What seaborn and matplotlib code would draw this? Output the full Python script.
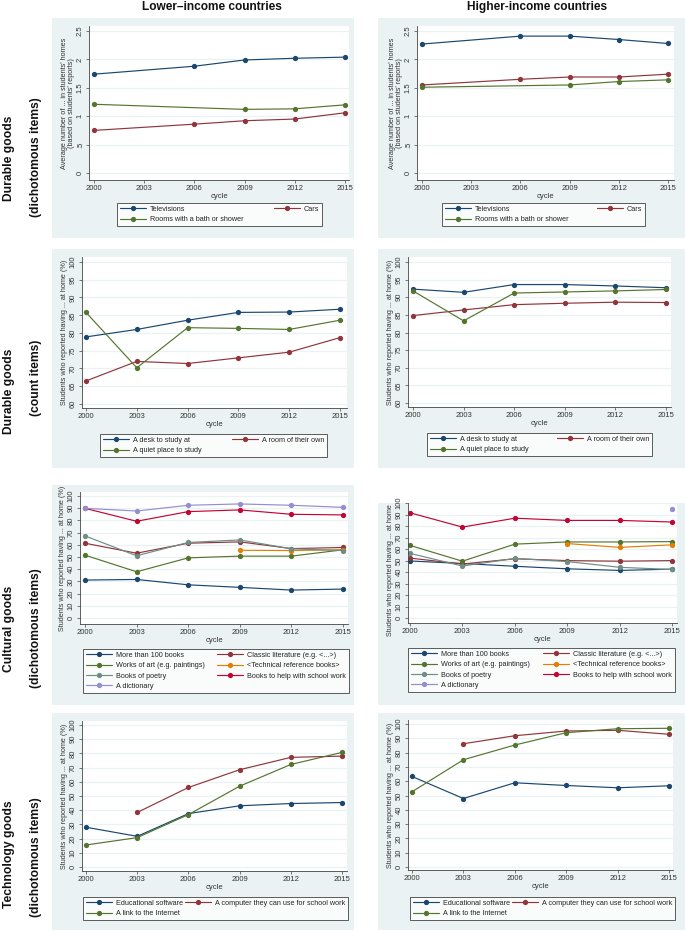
import numpy as np
import pandas as pd
import matplotlib
matplotlib.use("Agg")
import matplotlib.pyplot as plt
from matplotlib.patches import Rectangle
from matplotlib.lines import Line2D
from matplotlib.transforms import Bbox, TransformedBbox
import seaborn as sns

sns.set_style("white")
plt.rcParams['font.family'] = ['Liberation Sans', 'DejaVu Sans']

nan = np.nan
years = [2000, 2003, 2006, 2009, 2012, 2015]
year_labels = ["2000", "2003", "2006", "2009", "2012", "2015"]

col_titles = ["Lower\u2013income countries", "Higher-income countries"]
row_titles = [("Durable goods", "(dichotomous items)"),
              ("Durable goods", "(count items)"),
              ("Cultural goods", "(dichotomous items)"),
              ("Technology goods", "(dichotomous items)")]

# Row 1: durable goods (counts)
dur_items = ["Televisions", "Cars", "Rooms with a bath or shower"]
dur_low_tv = [1.74, nan, 1.88, 1.99, 2.02, 2.04]
dur_low_cars = [0.75, nan, 0.86, 0.92, 0.95, 1.06]
dur_low_bath = [1.21, nan, nan, 1.12, 1.13, 1.20]
dur_high_tv = [2.27, nan, 2.41, 2.41, 2.35, 2.28]
dur_high_cars = [1.55, nan, 1.65, 1.69, 1.69, 1.74]
dur_high_bath = [1.51, nan, nan, 1.55, 1.61, 1.64]
dur_yticks = [0, 0.5, 1, 1.5, 2, 2.5]
dur_ytick_labels = ["0", ".5", "1", "1.5", "2", "2.5"]

# Row 2: durable goods (dichotomous)
cnt_items = ["A desk to study at", "A room of their own", "A quiet place to study"]
cnt_low_desk = [78.9, 81.0, 83.6, 85.8, 85.9, 86.7]
cnt_low_room = [66.5, 72.0, 71.4, 73.0, 74.6, 78.7]
cnt_low_quiet = [85.8, 70.2, 81.5, 81.3, 81.0, 83.6]
cnt_high_desk = [92.3, 91.4, 93.6, 93.6, 93.2, 92.7]
cnt_high_room = [84.8, 86.4, 87.9, 88.3, 88.6, 88.5]
cnt_high_quiet = [91.8, 83.3, 91.2, 91.5, 91.8, 92.2]
cnt_yticks = [60, 65, 70, 75, 80, 85, 90, 95, 100]

# Row 3: cultural goods
cul_items = ["More than 100 books", "Classic literature (e.g. <...>)",
             "Works of art (e.g. paintings)", "<Technical reference books>",
             "Books of poetry", "Books to help with school work", "A dictionary"]
cul_low_books = [31.1, 31.6, 27.2, 25.1, 22.9, 23.7]
cul_low_classic = [61.3, 53.1, 61.3, 62.4, 56.9, 57.8]
cul_low_art = [51.5, 37.9, 49.3, 50.7, 50.7, 55.9]
cul_low_techref = [nan, nan, nan, 55.5, 55.3, 56.0]
cul_low_poetry = [67.3, 51.0, 61.9, 64.0, 56.7, 55.3]
cul_low_school = [89.9, 79.3, 87.2, 88.6, 85.0, 84.5]
cul_low_dict = [89.9, 87.7, 92.4, 93.5, 92.4, 90.7]
cul_high_books = [49.7, 47.5, 45.1, 42.9, 41.5, 42.6]
cul_high_classic = [52.2, 47.0, 51.6, 50.0, 49.5, 50.0]
cul_high_art = [63.2, 49.5, 64.3, 66.2, 66.2, 66.5]
cul_high_techref = [nan, nan, nan, 64.8, 61.5, 63.7]
cul_high_poetry = [56.3, 45.3, 51.9, 49.2, 44.2, 42.3]
cul_high_school = [91.5, 79.1, 86.8, 84.9, 84.9, 83.5]
cul_high_dict = [nan, nan, nan, nan, nan, 95.0]
pct_yticks = [0, 10, 20, 30, 40, 50, 60, 70, 80, 90, 100]

# Row 4: technology goods
tec_items = ["Educational software", "A computer they can use for school work",
             "A link to the Internet"]
tec_low_soft = [28.0, 21.6, 37.6, 43.1, 44.7, 45.4]
tec_low_comp = [nan, 38.4, 56.0, 68.5, 77.2, 78.1]
tec_low_net = [15.5, 20.7, 36.9, 56.9, 72.2, 80.7]
tec_high_soft = [63.3, 47.9, 58.9, 57.0, 55.4, 56.8]
tec_high_comp = [nan, 86.2, 91.8, 95.1, 95.6, 92.8]
tec_high_net = [52.6, 75.0, 85.3, 93.9, 96.7, 97.0]

stata_colors = ["#1A476F", "#90353B", "#55752F", "#E37E00",
                "#6E8E84", "#C10534", "#938DD2"]

ylab_avg = "Average number of ... in students' homes\n(based on students' reports)"
ylab_pct = "Students who reported having ... at home (%)"

W, H = 685, 932
BG = "#EAF2F3"
MS = 3.8
LW = 0.85
LEG_FS = 5.2
fig = plt.figure(figsize=(W / 100, H / 100), dpi=100)
fig.patch.set_facecolor("white")


def fx(px):
    return px / W


def fy(py):
    return 1 - py / H


def panel(bg, axr, xt, yt, items, series, yticks, ytl, ylabel, leg, expand=True):
    # background of the graph region
    bx0, by0, bx1, by1 = bg
    fig.patches.append(Rectangle((fx(bx0), fy(by1)), (bx1 - bx0) / W, (by1 - by0) / H,
                                 transform=fig.transFigure, facecolor=BG,
                                 edgecolor="none", zorder=-5))
    l, t, r, b = axr
    ax = fig.add_axes([fx(l), fy(b), (r - l) / W, (b - t) / H])
    ax.set_facecolor("white")
    # data
    rows = []
    for name, vals in zip(items, series):
        for yr, v in zip(years, vals):
            rows.append({"cycle": yr, "value": v, "item": name})
    df = pd.DataFrame(rows).dropna()
    pal = {n: stata_colors[i] for i, n in enumerate(items)}
    sns.lineplot(data=df, x="cycle", y="value", hue="item", hue_order=items,
                 palette=pal, marker="o", markersize=MS, markeredgewidth=0,
                 linewidth=LW, errorbar=None, legend=False, ax=ax)
    # limits from tick pixel positions
    (xp0, xv0), (xp1, xv1) = xt
    sx = (xp1 - xp0) / (xv1 - xv0)
    ax.set_xlim(xv0 + (l - xp0) / sx, xv0 + (r - xp0) / sx)
    (yp0, yv0), (yp1, yv1) = yt
    sy = (yp0 - yp1) / (yv1 - yv0)
    ax.set_ylim(yv0 - (b - yp0) / sy, yv0 + (yp0 - t) / sy)
    ax.set_xticks(years)
    ax.set_xticklabels(year_labels)
    ax.set_yticks(yticks)
    ax.set_yticklabels(ytl)
    ax.grid(axis="y", color=BG, linewidth=0.9)
    ax.grid(axis="x", visible=False)
    ax.set_axisbelow(True)
    for s in ["top", "right"]:
        ax.spines[s].set_visible(False)
    for s in ["left", "bottom"]:
        ax.spines[s].set_color("#444444")
        ax.spines[s].set_linewidth(0.6)
    ax.tick_params(axis="both", length=2.5, width=0.5, color="#444444",
                   labelsize=5.5, labelcolor="#333333", pad=1.2, direction="out",
                   bottom=True, left=True)
    ax.tick_params(axis="y", labelrotation=90)
    for lab in ax.get_yticklabels():
        lab.set_va("center")
    ax.set_xlabel("cycle", fontsize=5.5, color="#333333", labelpad=0.5)
    ax.set_ylabel(ylabel, fontsize=5.2, color="#333333", labelpad=1.5,
                  linespacing=0.95)
    clip = TransformedBbox(Bbox.from_extents(fx(bx0), fy(by1), fx(bx1), fy(by0)),
                           fig.transFigure)
    ax.yaxis.label.set_clip_box(clip)
    ax.yaxis.label.set_clip_on(True)
    # legend, filled row-wise like Stata
    handles = [Line2D([], [], color=pal[n], marker="o", markersize=MS,
                      markeredgewidth=0, linewidth=LW) for n in items]
    order = list(range(0, len(items), 2)) + list(range(1, len(items), 2))
    lx0, ly0, lx1, ly1 = leg
    common = dict(loc="upper left", bbox_transform=fig.transFigure, ncol=2,
                  frameon=True, fancybox=False, fontsize=LEG_FS,
                  handlelength=3.6, handletextpad=0.55, labelspacing=0.45,
                  borderpad=0.4, borderaxespad=0)
    if expand:
        lg = ax.legend([handles[i] for i in order], [items[i] for i in order],
                       bbox_to_anchor=(fx(lx0), fy(ly0) - 0.0001, (lx1 - lx0) / W, 0.0001),
                       mode="expand", columnspacing=0.6, **common)
    else:
        lg = ax.legend([handles[i] for i in order], [items[i] for i in order],
                       bbox_to_anchor=(fx(lx0), fy(ly0)),
                       columnspacing=0.3, **common)
    lg.get_frame().set_edgecolor("#333333")
    lg.get_frame().set_linewidth(0.7)
    lg.get_frame().set_facecolor("white")
    for txt in lg.get_texts():
        txt.set_color("#222222")
    return ax


# Row 1
panel((52, 18, 354, 238), (89, 26, 349, 180), ((94, 2000), (345, 2015)),
      ((173, 0), (31, 2.5)), dur_items, [dur_low_tv, dur_low_cars, dur_low_bath],
      dur_yticks, dur_ytick_labels, ylab_avg, (117, 203, 322, 232))
panel((378, 18, 685, 238), (417, 26, 674, 180), ((422, 2000), (668, 2015)),
      ((173, 0), (31, 2.5)), dur_items, [dur_high_tv, dur_high_cars, dur_high_bath],
      dur_yticks, dur_ytick_labels, ylab_avg, (442, 203, 645, 232))
# Row 2
panel((52, 249, 354, 468), (82, 257, 347, 408), ((86, 2000), (340, 2015)),
      ((404, 60), (262, 100)), cnt_items, [cnt_low_desk, cnt_low_room, cnt_low_quiet],
      cnt_yticks, [str(v) for v in cnt_yticks], ylab_pct, (100, 434, 327, 458))
panel((378, 249, 685, 468), (408, 257, 671, 407), ((413, 2000), (666, 2015)),
      ((403, 60), (262, 100)), cnt_items, [cnt_high_desk, cnt_high_room, cnt_high_quiet],
      cnt_yticks, [str(v) for v in cnt_yticks], ylab_pct, (427, 433, 652, 457))
# Row 3
panel((52, 485, 354, 705), (80, 492, 348, 624), ((85, 2000), (343, 2015)),
      ((618, 0), (496, 100)), cul_items,
      [cul_low_books, cul_low_classic, cul_low_art, cul_low_techref,
       cul_low_poetry, cul_low_school, cul_low_dict],
      pct_yticks, [str(v) for v in pct_yticks], ylab_pct, (83, 649, 349, 693))
panel((378, 503, 685, 705), (408, 503, 677, 623), ((410, 2000), (672, 2015)),
      ((618, 0), (509, 90)), cul_items,
      [cul_high_books, cul_high_classic, cul_high_art, cul_high_techref,
       cul_high_poetry, cul_high_school, cul_high_dict],
      pct_yticks, [str(v) for v in pct_yticks], ylab_pct, (408, 648, 675, 695))
# Row 4
panel((52, 713, 354, 930), (82, 721, 347, 871), ((86, 2000), (342, 2015)),
      ((867, 0), (725, 100)), tec_items, [tec_low_soft, tec_low_comp, tec_low_net],
      pct_yticks, [str(v) for v in pct_yticks], ylab_pct, (83, 897, 347, 920),
      expand=False)
panel((378, 713, 685, 930), (408, 720, 673, 870), ((412, 2000), (669, 2015)),
      ((867, 0), (724, 100)), tec_items, [tec_high_soft, tec_high_comp, tec_high_net],
      pct_yticks, [str(v) for v in pct_yticks], ylab_pct, (410, 897, 672, 921),
      expand=False)

# column titles
fig.text(fx(212), fy(7), col_titles[0], ha="center", va="center",
         fontsize=8.6, fontweight="bold", color="#111111")
fig.text(fx(537), fy(7), col_titles[1], ha="center", va="center",
         fontsize=8.6, fontweight="bold", color="#111111")

# row titles
row_centers = [(158, 157), (391, 378), (629, 628), (854, 857)]
for (t1, t2), (c1, c2) in zip(row_titles, row_centers):
    fig.text(fx(9), fy(c1), t1, rotation=90, ha="center", va="center",
             fontsize=8.7, fontweight="bold", color="#111111")
    fig.text(fx(36), fy(c2), t2, rotation=90, ha="center", va="center",
             fontsize=8.7, fontweight="bold", color="#111111")

fig.savefig("out.png", dpi=100, facecolor="white")
